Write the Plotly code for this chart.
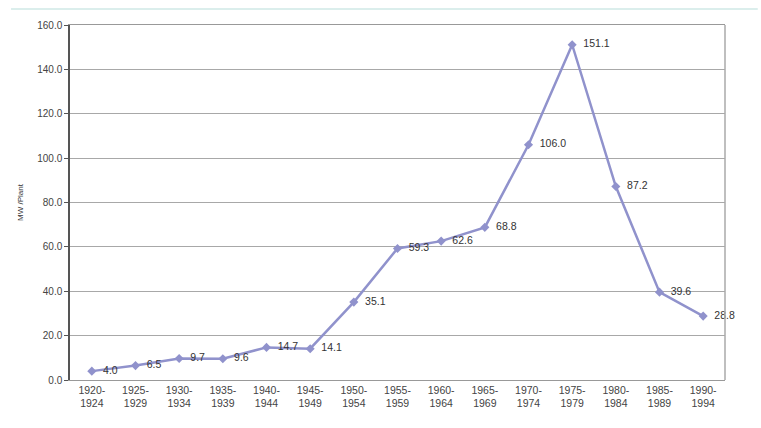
import plotly.graph_objects as go

periods = ["1920-<br>1924", "1925-<br>1929", "1930-<br>1934", "1935-<br>1939", "1940-<br>1944",
           "1945-<br>1949", "1950-<br>1954", "1955-<br>1959", "1960-<br>1964", "1965-<br>1969",
           "1970-<br>1974", "1975-<br>1979", "1980-<br>1984", "1985-<br>1989", "1990-<br>1994"]
mw_per_plant = [4.0, 6.5, 9.7, 9.6, 14.7, 14.1, 35.1, 59.3, 62.6, 68.8, 106.0, 151.1, 87.2, 39.6, 28.8]
y_ticks = [0, 20, 40, 60, 80, 100, 120, 140, 160]

fig = go.Figure()
fig.add_trace(go.Scatter(
    x=periods, y=mw_per_plant, mode="lines+markers+text",
    line=dict(color="#9092cc", width=2.5),
    marker=dict(symbol="diamond", size=7, color="#9092cc"),
    text=[f"  {v:.1f}" for v in mw_per_plant], textposition="middle right",
    textfont=dict(family="Liberation Sans, Arial", size=10.5, color="#333333"),
    cliponaxis=False, showlegend=False,
))

fig.update_layout(
    width=761, height=428,
    margin=dict(l=70, r=36, t=25, b=48),
    paper_bgcolor="white", plot_bgcolor="white",
    font=dict(family="Liberation Sans, Arial", size=10, color="#333333"),
    xaxis=dict(
        type="category", range=[-0.5, 14.5], showgrid=False,
        showline=True, linecolor="#999999", linewidth=1, mirror=True,
        ticks="", tickfont=dict(size=10.5, color="#444444"),
    ),
    yaxis=dict(
        range=[0, 160], tickvals=y_ticks, ticktext=[f"{v:.1f}" for v in y_ticks],
        showgrid=True, gridcolor="#a8a8a8", gridwidth=1,
        showline=True, linecolor="#555555", linewidth=1.5,
        ticks="outside", ticklen=4, tickcolor="#555555",
        tickfont=dict(size=10, color="#444444"), zeroline=False,
        title=dict(text="MW /Plant", font=dict(size=8, color="#333333"), standoff=12),
    ),
)
fig.add_shape(type="line", xref="paper", yref="paper", x0=1, x1=1, y0=0, y1=1,
              line=dict(color="#aaaaaa", width=1.5))
fig.add_shape(type="line", xref="paper", yref="paper", x0=-0.09, x1=1.05, y0=1.045, y1=1.045,
              line=dict(color="#cfe8e6", width=1.5))

fig.write_html("out.html")
